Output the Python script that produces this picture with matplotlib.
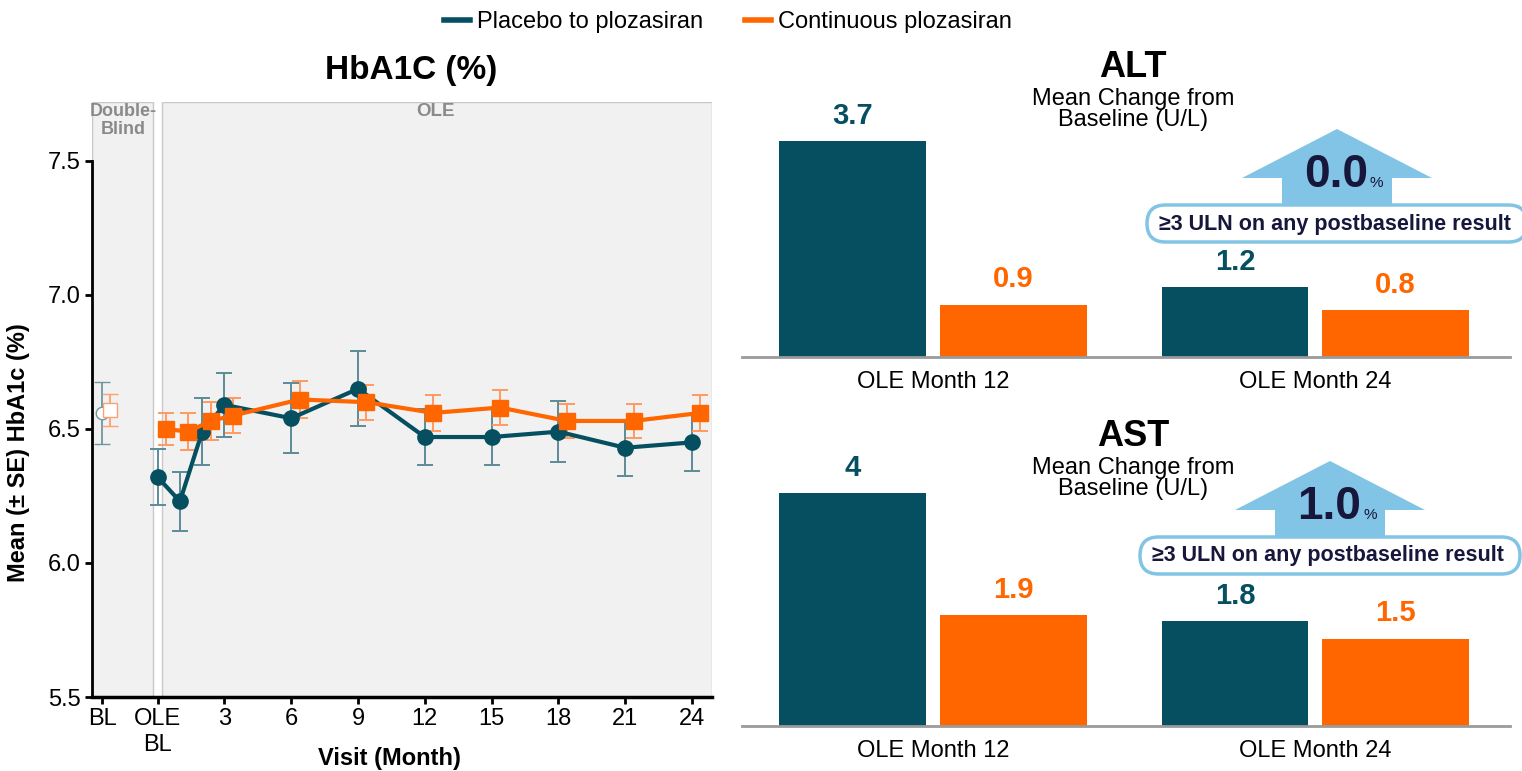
import numpy as np
import matplotlib
matplotlib.use("Agg")
import matplotlib.pyplot as plt
from matplotlib.lines import Line2D
from matplotlib.patches import Polygon, FancyBboxPatch
from matplotlib.transforms import Affine2D

plt.rcParams['font.family'] = ['Liberation Sans', 'DejaVu Sans']

# --- HbA1c over time (mean +/- SE) ---
visit_months = [0, 1, 2, 3, 6, 9, 12, 15, 18, 21, 24]
placebo_mean = [6.32, 6.23, 6.49, 6.59, 6.54, 6.65, 6.47, 6.47, 6.49, 6.43, 6.45]
placebo_se = [0.105, 0.11, 0.125, 0.12, 0.13, 0.14, 0.105, 0.105, 0.115, 0.105, 0.105]
cont_mean = [6.50, 6.49, 6.53, 6.55, 6.61, 6.60, 6.56, 6.58, 6.53, 6.53, 6.56]
cont_se = [0.06, 0.07, 0.07, 0.065, 0.07, 0.065, 0.067, 0.065, 0.065, 0.065, 0.067]
placebo_bl, placebo_bl_se = 6.56, 0.117
cont_bl, cont_bl_se = 6.57, 0.06

xtick_pos = [-2.5, 0, 3, 6, 9, 12, 15, 18, 21, 24]
xtick_lab = ["BL", "OLE\nBL", "3", "6", "9", "12", "15", "18", "21", "24"]

# --- liver enzymes, mean change from baseline (U/L) ---
timepoints = ["OLE Month 12", "OLE Month 24"]
alt_placebo = [3.7, 1.2]
alt_cont = [0.9, 0.8]
ast_placebo = [4, 1.8]
ast_cont = [1.9, 1.5]
alt_uln_pct = 0.0
ast_uln_pct = 1.0

TEAL = "#064f60"
ORANGE = "#ff6600"
ARROW = "#82c4e5"
NAVY = "#17163b"

W, H = 1522, 771
fig = plt.figure(figsize=(W / 100, H / 100), dpi=100)
# pixel coordinates, origin top-left
pix = Affine2D().scale(1 / W, -1 / H).translate(0, 1) + fig.transFigure

# ================= left: HbA1c =================
ax = fig.add_axes([92 / W, 1 - 697 / H, 620 / W, 595 / H])
ax.set_xlim(-2.95, 24.9)
ax.set_ylim(5.5, 7.72)

ax.axvspan(-2.95, -0.2, facecolor="#f1f1f1", edgecolor="#c8c8c8", lw=1, zorder=0)
ax.axvspan(0.2, 24.9, facecolor="#f1f1f1", edgecolor="#c8c8c8", lw=1, zorder=0)
ax.text(-1.55, 7.65, "Double-\nBlind", ha="center", va="center", fontsize=13,
        fontweight="bold", color="#8a8a8a", linespacing=1.05)
ax.text(12.5, 7.685, "OLE", ha="center", va="center", fontsize=13.5,
        fontweight="bold", color="#8a8a8a")

off = 0.38
xm = np.array(visit_months, dtype=float)

# baseline (double-blind) points, open markers
ax.errorbar([-2.5], [placebo_bl], yerr=[placebo_bl_se], fmt="o", ms=9, mfc="white",
            mec="#6f97a1", mew=1, ecolor="#6f97a1", elinewidth=1.3, capsize=6, capthick=1.3, zorder=4)
ax.errorbar([-2.5 + off], [cont_bl], yerr=[cont_bl_se], fmt="s", ms=10, mfc="white",
            mec="#ffa070", mew=1, ecolor="#ffa070", elinewidth=1.3, capsize=6, capthick=1.3, zorder=4)

ax.errorbar(xm, placebo_mean, yerr=placebo_se, fmt="none", ecolor="#5b8c97",
            elinewidth=1.4, capsize=6, capthick=1.4, zorder=3)
ax.plot(xm, placebo_mean, color=TEAL, lw=3, marker="o", ms=11, zorder=5)
ax.errorbar(xm + off, cont_mean, yerr=cont_se, fmt="none", ecolor="#ff9a60",
            elinewidth=1.4, capsize=6, capthick=1.4, zorder=3)
ax.plot(xm + off, cont_mean, color=ORANGE, lw=3, marker="s", ms=11, zorder=6)

ax.set_yticks([5.5, 6.0, 6.5, 7.0, 7.5])
ax.set_yticklabels(["5.5", "6.0", "6.5", "7.0", "7.5"])
ax.set_xticks(xtick_pos)
ax.set_xticklabels(xtick_lab, linespacing=1.2)
ax.tick_params(axis="both", labelsize=17, width=2, length=5, pad=3, color="black")
ax.spines["top"].set_visible(False)
ax.spines["right"].set_visible(False)
ax.spines["left"].set_linewidth(2)
ax.spines["left"].set_bounds(5.5, 7.5)
ax.spines["bottom"].set_linewidth(2.5)
ax.set_ylabel("Mean (± SE) HbA1c (%)", fontsize=17, fontweight="bold")
ax.yaxis.set_label_coords(-0.1, 0.41)
ax.set_xlabel("Visit (Month)", fontsize=17, fontweight="bold", va="center")
ax.xaxis.set_label_coords(0.48, -0.103)

fig.text(411 / W, 1 - 70 / H, "HbA1C (%)", ha="center", va="center", fontsize=24, fontweight="bold")

# legend
handles = [Line2D([], [], color=TEAL, lw=4), Line2D([], [], color=ORANGE, lw=4)]
fig.legend(handles, ["Placebo to plozasiran", "Continuous plozasiran"], loc="center",
           bbox_to_anchor=(728 / W, 1 - 22 / H), ncol=2, frameon=False, fontsize=17,
           handlelength=1.1, handletextpad=0.3, columnspacing=1.8)


# ================= right: ALT / AST bars =================
def bar_panel(top_px, title, placebo_vals, cont_vals):
    bax = fig.add_axes([742 / W, 1 - (top_px + 257) / H, 768 / W, 257 / H])
    g = np.arange(len(timepoints))
    b1 = bax.bar(g - 0.21, placebo_vals, width=0.384, color=TEAL)
    b2 = bax.bar(g + 0.21, cont_vals, width=0.384, color=ORANGE)
    bax.bar_label(b1, labels=[f"{v:g}" for v in placebo_vals], padding=8,
                  fontsize=21, fontweight="bold", color=TEAL)
    bax.bar_label(b2, labels=[f"{v:g}" for v in cont_vals], padding=8,
                  fontsize=21, fontweight="bold", color=ORANGE)
    bax.set_xlim(-0.5, 1.51)
    bax.set_ylim(0, 257 / 58.3)
    bax.set_xticks(g)
    bax.set_xticklabels(timepoints, fontsize=17)
    bax.tick_params(axis="x", length=0, pad=10)
    bax.set_yticks([])
    for s in ["top", "right", "left"]:
        bax.spines[s].set_visible(False)
    bax.spines["bottom"].set_color("#9a9a9a")
    bax.spines["bottom"].set_linewidth(2)
    bax.text(0.509, 1.125, title, transform=bax.transAxes, ha="center", va="center",
             fontsize=26, fontweight="bold")
    bax.text(0.509, 0.962, "Mean Change from\nBaseline (U/L)", transform=bax.transAxes,
             ha="center", va="center", fontsize=17, linespacing=0.95)
    return bax


def uln_badge(ax_x, ax_y, pct):
    # up-arrow with the percentage and a rounded caption box below it
    pts = [(0, 0), (95, 49), (55, 49), (55, 78), (-55, 78), (-55, 49), (-95, 49)]
    arrow = Polygon([(ax_x + dx, ax_y + dy) for dx, dy in pts], closed=True,
                    facecolor=ARROW, edgecolor="none", transform=pix)
    fig.add_artist(arrow)
    box = FancyBboxPatch((ax_x - 190, ax_y + 76), 380, 37,
                         boxstyle="round,pad=0,rounding_size=18.5", facecolor="white",
                         edgecolor=ARROW, lw=2.5, transform=pix, clip_on=False)
    fig.add_artist(box)
    fig.text((ax_x + 31) / W, 1 - (ax_y + 58) / H, f"{pct:.1f}", ha="right", va="baseline",
             fontsize=33, fontweight="bold", color=NAVY)
    fig.text((ax_x + 33) / W, 1 - (ax_y + 58) / H, "%", ha="left", va="baseline",
             fontsize=11, color=NAVY)
    fig.text((ax_x - 2) / W, 1 - (ax_y + 95) / H, "≥3 ULN on any postbaseline result",
             ha="center", va="center", fontsize=15.5, fontweight="bold", color=NAVY)


bar_panel(100, "ALT", alt_placebo, alt_cont)
bar_panel(469, "AST", ast_placebo, ast_cont)
uln_badge(1337, 129, alt_uln_pct)
uln_badge(1330, 461, ast_uln_pct)

fig.savefig("out.png", dpi=100)
